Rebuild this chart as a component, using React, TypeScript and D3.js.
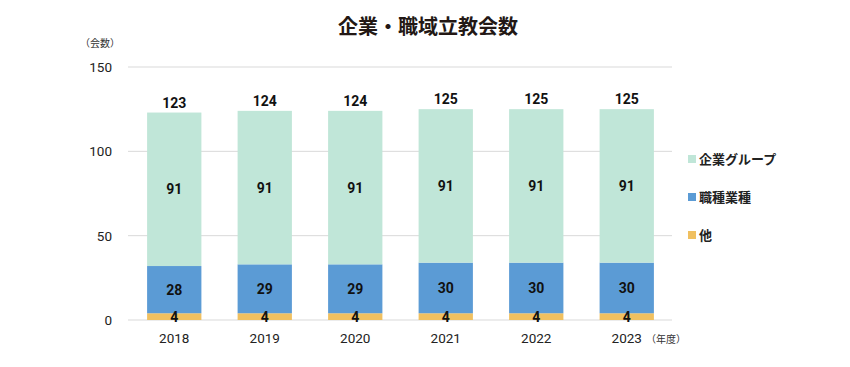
import * as d3 from 'd3';
import React from 'react';

const years = ['2018', '2019', '2020', '2021', '2022', '2023'];
const other = [4, 4, 4, 4, 4, 4];
const occupation = [28, 29, 29, 30, 30, 30];
const corporate = [91, 91, 91, 91, 91, 91];
const yTicks = [0, 50, 100, 150];

const seriesNames = ['他', '職種業種', '企業グループ'];
const colors = ['#f0c060', '#5b9bd5', '#c0e6d8'];

const W = 850;
const H = 367;
const margin = { top: 67, right: 178, bottom: 47, left: 128 };

const fontJP = '"Noto Sans CJK JP", "Noto Sans", sans-serif';
const fontNum = 'Roboto, "Noto Sans", sans-serif';

const App = () => {
  const x = d3.scaleBand().domain(years).range([margin.left + 1, W - margin.right]).paddingInner(0.4).paddingOuter(0.2);
  const y = d3.scaleLinear().domain([0, 150]).range([H - margin.bottom, margin.top]);

  const rows = years.map((yr, i) => ({ year: yr, other: other[i], occupation: occupation[i], corporate: corporate[i] }));
  const stack = d3.stack<any>().keys(['other', 'occupation', 'corporate'])(rows);

  return (
    <svg width={W} height={H} style={{ position: 'absolute', left: 0, top: 0, background: '#fff' }}>
      <text x={428} y={34} textAnchor="middle" fontFamily={fontJP} fontWeight="bold" fontSize={20} fill="#231815">
        企業・職域立教会数
      </text>
      <text x={100} y={47} textAnchor="middle" fontFamily={fontJP} fontSize={10} fill="#333">（会数）</text>

      {yTicks.map(t => (
        <g key={t}>
          <line x1={margin.left} x2={W - margin.right} y1={y(t)} y2={y(t)} stroke="#d9d9d9" strokeWidth={1} />
          <text x={112} y={y(t) + 5} textAnchor="end" fontFamily={fontNum} fontSize={13.5} fill="#222">{t}</text>
        </g>
      ))}

      {stack.map((s, si) => (
        <g key={si} fill={colors[si]}>
          {s.map((d: any) => (
            <rect key={d.data.year} x={x(d.data.year)} y={y(d[1])} width={x.bandwidth()} height={y(d[0]) - y(d[1])} />
          ))}
        </g>
      ))}

      {stack.map((s, si) => (
        <g key={'l' + si}>
          {s.map((d: any) => (
            <text key={d.data.year} x={(x(d.data.year) as number) + x.bandwidth() / 2} y={(y(d[0]) + y(d[1])) / 2 + 5}
              textAnchor="middle" fontFamily={fontNum} fontWeight="bold" fontSize={14} fill="#111">
              {d[1] - d[0]}
            </text>
          ))}
        </g>
      ))}

      {rows.map(r => {
        const total = r.other + r.occupation + r.corporate;
        return (
          <text key={'t' + r.year} x={(x(r.year) as number) + x.bandwidth() / 2} y={y(total) - 5}
            textAnchor="middle" fontFamily={fontNum} fontWeight="bold" fontSize={14} fill="#111">
            {total}
          </text>
        );
      })}

      {years.map(yr => (
        <text key={'x' + yr} x={(x(yr) as number) + x.bandwidth() / 2} y={343} textAnchor="middle" fontFamily={fontNum} fontSize={13.5} fill="#222">
          {yr}
        </text>
      ))}
      <text x={666} y={343} textAnchor="middle" fontFamily={fontJP} fontSize={10} fill="#333">（年度）</text>

      {[2, 1, 0].map((si, i) => (
        <g key={'lg' + si} transform={`translate(688, ${159 + i * 38})`}>
          <rect x={0} y={-4} width={8} height={8} fill={colors[si]} />
          <text x={11} y={5} fontFamily={fontJP} fontWeight="bold" fontSize={13} fill="#222">{seriesNames[si]}</text>
        </g>
      ))}
    </svg>
  );
};

export default App;
